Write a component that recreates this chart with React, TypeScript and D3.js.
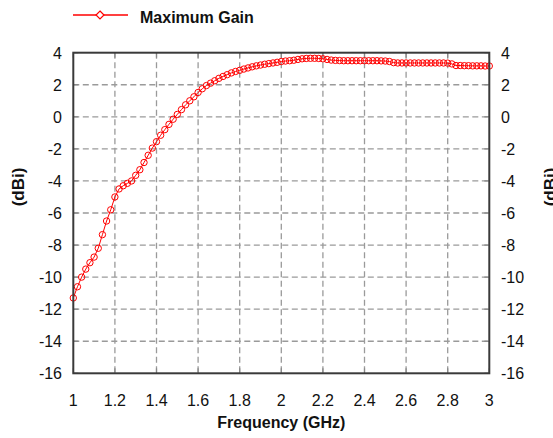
import React from "react";
import * as d3 from "d3";

const freqStart = 1.0;
const freqStep = 0.02;
const gain = [
  -11.3, -10.6, -10.0, -9.5, -9.1, -8.75, -8.2, -7.35, -6.5, -5.8,
  -5.0, -4.5, -4.3, -4.15, -4.0, -3.65, -3.3, -2.85, -2.4, -1.95,
  -1.55, -1.15, -0.8, -0.47, -0.15, 0.15, 0.45, 0.75, 1.0, 1.25,
  1.52, 1.75, 1.95, 2.1, 2.25, 2.4, 2.52, 2.63, 2.74, 2.83,
  2.9, 2.98, 3.05, 3.12, 3.18, 3.23, 3.28, 3.32, 3.36, 3.4,
  3.45, 3.48, 3.5, 3.53, 3.58, 3.62, 3.64, 3.65, 3.65, 3.64,
  3.62, 3.58, 3.54, 3.52, 3.51, 3.5, 3.5, 3.5, 3.5, 3.5,
  3.5, 3.5, 3.5, 3.5, 3.49, 3.48, 3.45, 3.38, 3.36, 3.36,
  3.36, 3.36, 3.36, 3.36, 3.36, 3.36, 3.36, 3.36, 3.36, 3.36,
  3.35, 3.3, 3.2, 3.2, 3.19, 3.19, 3.18, 3.18, 3.18, 3.17,
  3.17,
];
const xTicks = [1, 1.2, 1.4, 1.6, 1.8, 2, 2.2, 2.4, 2.6, 2.8, 3];
const yTicks = [4, 2, 0, -2, -4, -6, -8, -10, -12, -14, -16];
const seriesName = "Maximum Gain";
const xTitle = "Frequency (GHz)";
const yTitle = "(dBi)";

const W = 553;
const H = 438;
const L = 73.3, R = 489.3, T = 52.7, B = 373.3;
const font = "'Liberation Sans', Arial, sans-serif";

export default function App() {
  const x = d3.scaleLinear().domain([1, 3]).range([L, R]);
  const y = d3.scaleLinear().domain([-16, 4]).range([B, T]);
  const pts = gain.map((g, i) => ({ f: freqStart + i * freqStep, g }));
  const line = d3.line<{ f: number; g: number }>().x((d) => x(d.f)).y((d) => y(d.g));
  const red = "#ff0000";
  return (
    <svg width={W} height={H} style={{ position: "fixed", left: 0, top: 0, background: "#fff" }}>
      <rect x={0} y={0} width={W} height={H} fill="#fff" />
      {/* grid */}
      {xTicks.slice(1, -1).map((t) => (
        <line key={"gx" + t} x1={x(t)} x2={x(t)} y1={T} y2={B} stroke="#9a9a9a" strokeWidth={1.3} strokeDasharray="6,3.5" />
      ))}
      {yTicks.slice(1, -1).map((t) => (
        <line key={"gy" + t} x1={L} x2={R} y1={y(t)} y2={y(t)} stroke="#9a9a9a" strokeWidth={1.3} strokeDasharray="6,3.5" />
      ))}
      {/* inner ticks */}
      {xTicks.map((t) => (
        <g key={"tx" + t}>
          <line x1={x(t)} x2={x(t)} y1={T} y2={T + 5} stroke="#888" strokeWidth={1.2} />
          <line x1={x(t)} x2={x(t)} y1={B} y2={B - 5} stroke="#888" strokeWidth={1.2} />
        </g>
      ))}
      {yTicks.map((t) => (
        <g key={"ty" + t}>
          <line x1={L} x2={L + 5} y1={y(t)} y2={y(t)} stroke="#888" strokeWidth={1.2} />
          <line x1={R} x2={R - 5} y1={y(t)} y2={y(t)} stroke="#888" strokeWidth={1.2} />
        </g>
      ))}
      {/* data */}
      <path d={line(pts) || ""} fill="none" stroke={red} strokeWidth={1} />
      {pts.map((p, i) => (
        <circle key={i} cx={x(p.f)} cy={y(p.g)} r={3.2} fill="none" stroke={red} strokeWidth={1} />
      ))}
      {/* border */}
      <rect x={L} y={T} width={R - L} height={B - T} fill="none" stroke="#3a3a3a" strokeWidth={2} />
      {/* tick labels */}
      {yTicks.map((t) => (
        <text key={"ly" + t} x={62} y={y(t) + 6} textAnchor="end" fontFamily={font} fontSize={16} fill="#111">
          {t}
        </text>
      ))}
      {yTicks.map((t) => (
        <text key={"ry" + t} x={501} y={y(t) + 6} textAnchor="start" fontFamily={font} fontSize={16} fill="#111">
          {t}
        </text>
      ))}
      {xTicks.map((t) => (
        <text key={"lx" + t} x={x(t)} y={406} textAnchor="middle" fontFamily={font} fontSize={16} fill="#111">
          {t}
        </text>
      ))}
      {/* titles */}
      <text x={x(2)} y={428} textAnchor="middle" fontFamily={font} fontSize={16} fontWeight="bold" fill="#111">
        {xTitle}
      </text>
      <text transform={`translate(24,187) rotate(-90)`} textAnchor="middle" fontFamily={font} fontSize={17} fontWeight="bold" fill="#111">
        {yTitle}
      </text>
      <text transform={`translate(556,187) rotate(-90)`} textAnchor="middle" fontFamily={font} fontSize={17} fontWeight="bold" fill="#111">
        {yTitle}
      </text>
      {/* legend */}
      <line x1={73} x2={128} y1={15} y2={15} stroke={red} strokeWidth={1.5} />
      <path d={`M100,11 L104,15 L100,19 L96,15 Z`} fill="#fff" stroke={red} strokeWidth={1.2} />
      <text x={140} y={23} fontFamily={font} fontSize={16} fontWeight="bold" fill="#111">
        {seriesName}
      </text>
    </svg>
  );
}
